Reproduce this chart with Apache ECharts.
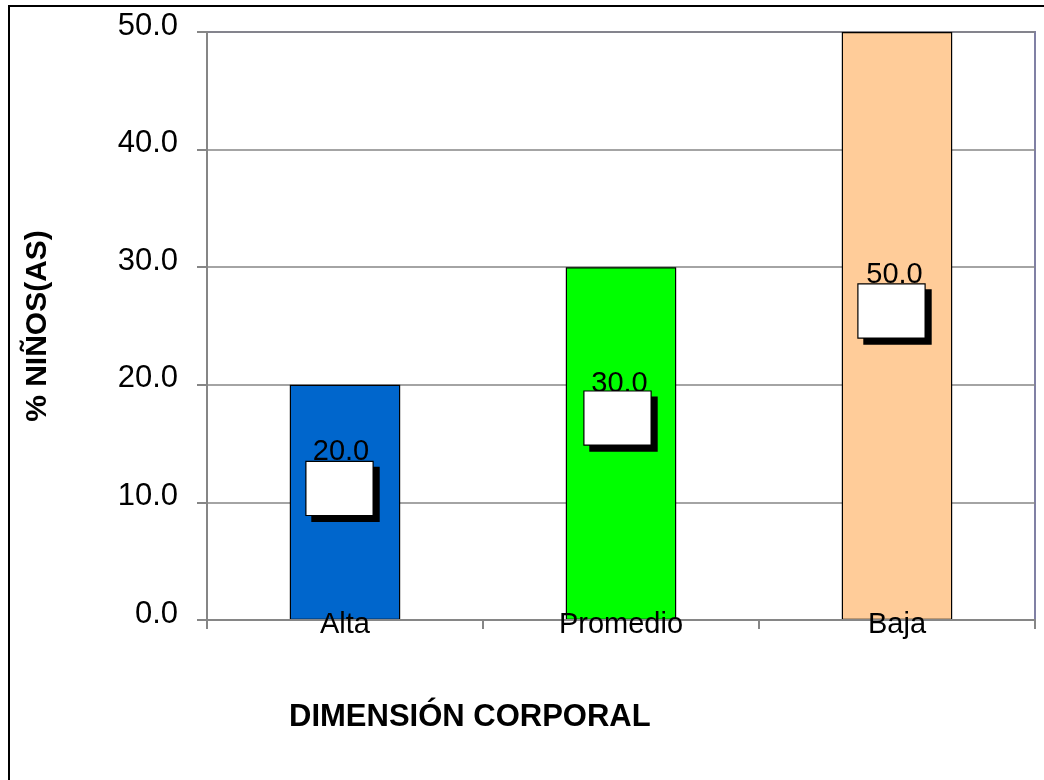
<!DOCTYPE html>
<html>
<head>
<meta charset="utf-8">
<script src="https://cdn.jsdelivr.net/npm/echarts@6/dist/echarts.min.js"></script>
<style>
html,body{margin:0;padding:0;background:#fff;}
#chart{width:1044px;height:780px;}
</style>
</head>
<body>
<div id="chart"></div>
<script>
const categories = ['Alta', 'Promedio', 'Baja'];
const values = [20.0, 30.0, 50.0];
const barColors = ['#0066CC', '#00FF00', '#FFCC99'];
const yTicks = [0, 10, 20, 30, 40, 50];
const xTitle = 'DIMENSIÓN CORPORAL';
const yTitle = '% NIÑOS(AS)';

const FONT = "'Liberation Sans', Arial, sans-serif";
const chart = echarts.init(document.getElementById('chart'), null, {renderer: 'canvas'});

const textOffsets = [[-4, -50], [-1.5, -60], [-2.5, -51]];
const boxOffsets = [[-5.5, -14], [-3.5, -25.5], [-5.5, -15]];

const option = {
  backgroundColor: '#ffffff',
  animation: false,
  title: {
    text: xTitle,
    left: 284,
    top: 697,
    textStyle: {fontFamily: FONT, fontSize: 31, fontWeight: 'bold', color: '#000'}
  },
  graphic: [{
    type: 'rect',
    shape: {x: 9, y: 6, width: 1200, height: 1000},
    style: {fill: 'none', stroke: '#000', lineWidth: 2},
    silent: true,
    z: 100
  }],
  grid: {
    left: 207, top: 32, right: 9, bottom: 160,
    show: true, borderColor: '#8080A4', borderWidth: 2, backgroundColor: 'transparent'
  },
  xAxis: {
    type: 'category',
    data: categories,
    z: 5,
    boundaryGap: true,
    axisLine: {show: true, lineStyle: {color: '#868686', width: 2}},
    axisTick: {show: true, length: 9, alignWithLabel: false, lineStyle: {color: '#868686', width: 2}},
    axisLabel: {
      margin: 5, verticalAlign: 'middle',
      fontFamily: FONT, fontSize: 29, color: '#000'
    },
    splitLine: {show: false}
  },
  yAxis: {
    type: 'value',
    min: yTicks[0],
    max: yTicks[yTicks.length - 1],
    interval: yTicks[1] - yTicks[0],
    name: yTitle,
    nameLocation: 'middle',
    nameGap: 154,
    nameRotate: 90,
    nameTextStyle: {fontFamily: FONT, fontSize: 30, fontWeight: 'bold', color: '#000'},
    axisLine: {show: true, lineStyle: {color: '#868686', width: 2}},
    axisTick: {show: true, length: 10, inside: false, lineStyle: {color: '#868686', width: 2}},
    axisLabel: {
      margin: 29, fontFamily: FONT, fontSize: 31, color: '#000',
      verticalAlign: 'bottom', lineHeight: 12,
      formatter: v => v.toFixed(1)
    },
    splitLine: {show: true, lineStyle: {color: '#868686', width: 1.5}}
  },
  series: [
    {
      type: 'bar',
      z: 2,
      barWidth: '40%',
      barGap: '-100%',
      data: values.map((v, i) => ({
        value: v,
        itemStyle: {color: barColors[i]},
        label: {offset: textOffsets[i]}
      })),
      itemStyle: {borderColor: '#000', borderWidth: 1.2},
      label: {
        show: true, position: 'inside',
        fontFamily: FONT, fontSize: 29, color: '#000',
        textBorderWidth: 0,
        formatter: p => Number(p.value).toFixed(1)
      }
    },
    {
      type: 'bar',
      z: 3,
      silent: true,
      barWidth: '40%',
      barGap: '-100%',
      data: values.map((v, i) => ({
        value: v,
        label: {offset: boxOffsets[i]}
      })),
      itemStyle: {color: 'rgba(0,0,0,0)', borderWidth: 0},
      label: {
        show: true, position: 'inside',
        formatter: () => ' ',
        fontSize: 10, color: '#000', textBorderWidth: 0,
        width: 66, height: 53, padding: 0,
        backgroundColor: '#ffffff', borderColor: '#000', borderWidth: 1.2,
        shadowColor: '#000', shadowOffsetX: 6, shadowOffsetY: 6, shadowBlur: 0
      }
    }
  ]
};
chart.setOption(option);
</script>
</body>
</html>
